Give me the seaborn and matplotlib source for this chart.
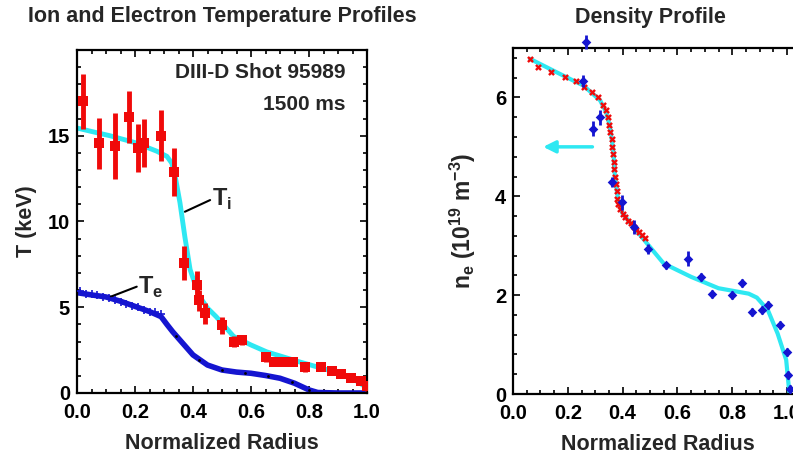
import matplotlib
matplotlib.use("Agg")
import matplotlib.pyplot as plt
import seaborn as sns
import numpy as np
import pandas as pd
from matplotlib.ticker import MultipleLocator

# ---------------- data: left panel (temperatures) ----------------
ti_fit_r = [0.0, 0.05, 0.114, 0.2, 0.275, 0.31, 0.327, 0.34, 0.355, 0.372, 0.39, 0.41, 0.424, 0.45, 0.48, 0.54, 0.6, 0.654, 0.77, 0.885, 0.95, 1.0]
ti_fit_t = [15.45, 15.25, 15.0, 14.6, 14.1, 13.8, 13.4, 12.5, 11.1, 9.1, 7.2, 6.2, 5.6, 4.95, 4.45, 3.3, 2.8, 2.4, 1.8, 1.25, 0.85, 0.3]

ti_r = [0.02, 0.075, 0.13, 0.178, 0.212, 0.23, 0.29, 0.335, 0.37, 0.415, 0.42, 0.44, 0.50, 0.54, 0.57, 0.65, 0.68, 0.71, 0.745, 0.785, 0.84, 0.88, 0.91, 0.945, 0.98, 1.0]
ti_t = [17.0, 14.55, 14.4, 16.1, 14.3, 14.6, 15.0, 12.9, 7.6, 6.3, 5.4, 4.65, 3.95, 3.0, 3.1, 2.1, 1.8, 1.8, 1.8, 1.5, 1.5, 1.3, 1.1, 0.85, 0.7, 0.4]
ti_err = [1.6, 1.5, 1.9, 1.5, 1.4, 1.4, 1.5, 1.4, 1.0, 0.8, 0.6, 0.6, 0.5, 0.3, 0.3, 0.3, 0.2, 0.2, 0.2, 0.3, 0.2, 0.2, 0.2, 0.2, 0.2, 0.3]

te_fit_r = [0.0, 0.05, 0.1, 0.15, 0.2, 0.25, 0.29, 0.31, 0.33, 0.36, 0.4, 0.45, 0.5, 0.55, 0.6, 0.65, 0.7, 0.75, 0.8, 0.83, 0.9, 1.0]
te_fit_t = [5.85, 5.72, 5.6, 5.35, 5.05, 4.75, 4.45, 4.0, 3.57, 2.99, 2.22, 1.63, 1.34, 1.22, 1.15, 1.02, 0.86, 0.57, 0.18, 0.03, 0.0, 0.0]

te_pt_r = [0.01, 0.03, 0.05, 0.07, 0.09, 0.11, 0.13, 0.15, 0.17, 0.19, 0.21, 0.23, 0.25, 0.27, 0.29]
te_pt_t = [5.95, 5.8, 5.75, 5.7, 5.6, 5.55, 5.4, 5.3, 5.2, 5.1, 5.0, 4.85, 4.75, 4.7, 4.6]
te_dot_r = [0.34, 0.42, 0.5, 0.58, 0.66, 0.74, 0.8]
te_dot_t = [3.35, 1.95, 1.34, 1.18, 1.0, 0.62, 0.18]

# ---------------- data: right panel (density) ----------------
ne_fit_r = [0.062, 0.184, 0.257, 0.318, 0.34, 0.354, 0.366, 0.372, 0.384, 0.40, 0.44, 0.49, 0.55, 0.65, 0.75, 0.86, 0.89, 0.93, 0.966, 0.997, 1.009]
ne_fit_n = [6.78, 6.44, 6.24, 5.94, 5.7, 5.4, 4.93, 4.39, 3.92, 3.65, 3.38, 3.04, 2.64, 2.37, 2.14, 2.03, 1.95, 1.7, 1.22, 0.69, 0.0]

ne_red_r = [0.062, 0.09, 0.14, 0.19, 0.23, 0.26, 0.29, 0.31, 0.33, 0.34, 0.345, 0.35, 0.355, 0.36, 0.362, 0.365, 0.367, 0.37, 0.372, 0.375, 0.378, 0.38, 0.385, 0.39, 0.40, 0.41, 0.42, 0.43, 0.44, 0.45, 0.46, 0.47, 0.48]
ne_red_n = [6.78, 6.62, 6.52, 6.42, 6.33, 6.22, 6.1, 6.0, 5.85, 5.75, 5.6, 5.45, 5.3, 5.15, 5.0, 4.85, 4.7, 4.55, 4.4, 4.25, 4.1, 3.95, 3.85, 3.75, 3.65, 3.58, 3.5, 3.45, 3.38, 3.32, 3.27, 3.22, 3.15]

ne_blue_r = [0.265, 0.257, 0.291, 0.318, 0.36, 0.396, 0.44, 0.493, 0.56, 0.64, 0.685, 0.725, 0.798, 0.835, 0.871, 0.91, 0.93, 0.975, 0.999, 1.005, 1.01]
ne_blue_n = [7.12, 6.34, 5.37, 5.6, 4.29, 3.88, 3.38, 2.94, 2.6, 2.74, 2.37, 2.03, 2.0, 2.24, 1.66, 1.7, 1.8, 1.39, 0.85, 0.38, 0.1]
ne_blue_err = [0.15, 0.12, 0.15, 0.15, 0.1, 0.15, 0.15, 0.1, 0.08, 0.15, 0.08, 0.08, 0.08, 0.08, 0.08, 0.08, 0.08, 0.08, 0.08, 0.08, 0.08]

x_ticks = [0.0, 0.2, 0.4, 0.6, 0.8, 1.0]
x_ticklabels = ["0.0", "0.2", "0.4", "0.6", "0.8", "1.0"]

RED = "#f00a0a"
CYAN = "#2ee8f2"
BLUE = "#1515d0"

sns.set_style("ticks")
plt.rcParams['font.family'] = ['Liberation Sans', 'DejaVu Sans']
plt.rcParams['font.weight'] = 'bold'
plt.rcParams['axes.labelweight'] = 'bold'
plt.rcParams['mathtext.default'] = 'bf'

LBL = 15.5
TCK = 14.5

fig = plt.figure(figsize=(7.93, 4.57), dpi=100)
W, H = 793.0, 457.0
ax1 = fig.add_axes([77 / W, (H - 393) / H, 290 / W, 343 / H])
ax2 = fig.add_axes([513 / W, (H - 394) / H, 1.06 * 274 / W, 346 / H])

def style(ax):
    ax.tick_params(which='both', direction='in', top=True, right=True, labelsize=TCK, width=1.2, colors='black')
    ax.tick_params(which='major', length=5)
    ax.tick_params(which='minor', length=3)
    ax.tick_params(axis='x', which='major', pad=7)
    ax.tick_params(axis='y', which='major', pad=5)
    for s in ax.spines.values():
        s.set_linewidth(1.6)
        s.set_color('black')
    for lab in ax.get_xticklabels() + ax.get_yticklabels():
        lab.set_fontweight('bold')

# ---------------- left panel ----------------
sns.lineplot(x=ti_fit_r, y=ti_fit_t, ax=ax1, color=CYAN, lw=3.5, sort=False, zorder=2)
ax1.errorbar(ti_r, ti_t, yerr=ti_err, fmt='none', ecolor=RED, elinewidth=3.5, capsize=0, zorder=3)
sns.scatterplot(x=ti_r, y=ti_t, ax=ax1, color=RED, marker='s', s=50, edgecolor=RED, linewidth=0, zorder=4)
sns.lineplot(x=te_fit_r, y=te_fit_t, ax=ax1, color=BLUE, lw=4, sort=False, zorder=2)
sns.scatterplot(x=te_pt_r, y=te_pt_t, ax=ax1, color=BLUE, marker='+', s=30, linewidth=1.2, zorder=3)
sns.scatterplot(x=te_dot_r, y=te_dot_t, ax=ax1, color='black', marker='o', s=4, linewidth=0, zorder=4)

ax1.plot([0.372, 0.459], [10.57, 11.25], color='black', lw=1.5)
ax1.text(0.465, 11.3, r"T$_\mathregular{i}$", fontsize=17, fontweight='bold', va='center')
ax1.plot([0.114, 0.206], [5.6, 6.2], color='black', lw=1.5)
ax1.text(0.21, 6.15, r"T$_\mathregular{e}$", fontsize=17, fontweight='bold', va='center')

ax1.text(0.925, 18.7, "DIII-D Shot 95989", fontsize=15, fontweight='bold', ha='right', va='center')
ax1.text(0.925, 16.8, "1500 ms", fontsize=15, fontweight='bold', ha='right', va='center')

ax1.set_xlim(0, 1.0)
ax1.set_ylim(0, 20)
ax1.set_xticks(x_ticks)
ax1.set_xticklabels(x_ticklabels)
ax1.xaxis.set_minor_locator(MultipleLocator(0.05))
ax1.set_yticks([0, 5, 10, 15])
ax1.yaxis.set_minor_locator(MultipleLocator(1))
ax1.set_xlabel("Normalized Radius", fontsize=LBL, fontweight='bold', labelpad=8)
ax1.set_ylabel("T (keV)", fontsize=LBL, fontweight='bold', labelpad=8)
ax1.set_title("Ion and Electron Temperature Profiles", fontsize=LBL, fontweight='bold', pad=20)
style(ax1)

# ---------------- right panel ----------------
sns.lineplot(x=ne_fit_r, y=ne_fit_n, ax=ax2, color=CYAN, lw=3, sort=False, zorder=2)
sns.scatterplot(x=ne_red_r, y=ne_red_n, ax=ax2, color=RED, marker='X', s=24, linewidth=0, zorder=3)
ax2.errorbar(ne_blue_r, ne_blue_n, yerr=ne_blue_err, fmt='none', ecolor=BLUE, elinewidth=2, capsize=0, zorder=4, clip_on=False)
sns.scatterplot(x=ne_blue_r, y=ne_blue_n, ax=ax2, color=BLUE, marker='D', s=24, linewidth=0, zorder=5)
for coll in ax2.collections:
    coll.set_clip_on(False)
ax2.annotate("", xy=(0.10, 5.0), xytext=(0.30, 5.0),
             arrowprops=dict(arrowstyle='-|>', color=CYAN, lw=2.5, mutation_scale=18))

ax2.set_xlim(0, 1.06)
ax2.set_ylim(0, 7)
ax2.set_xticks(x_ticks)
ax2.set_xticklabels(x_ticklabels)
ax2.xaxis.set_minor_locator(MultipleLocator(0.05))
ax2.set_yticks([0, 2, 4, 6])
ax2.yaxis.set_minor_locator(MultipleLocator(0.4))
ax2.set_xlabel("Normalized Radius", fontsize=LBL, fontweight='bold', labelpad=8)
ax2.set_ylabel(r"n$_\mathregular{e}$ (10$^\mathregular{19}$ m$^\mathregular{-3}$)", fontsize=16.5, fontweight='bold', labelpad=12)
ax2.text(0.5, 7.0 + 31 * 7 / 346, "Density Profile", fontsize=LBL, fontweight='bold',
         ha='center', va='center')
style(ax2)

fig.savefig("out.png", dpi=100)
